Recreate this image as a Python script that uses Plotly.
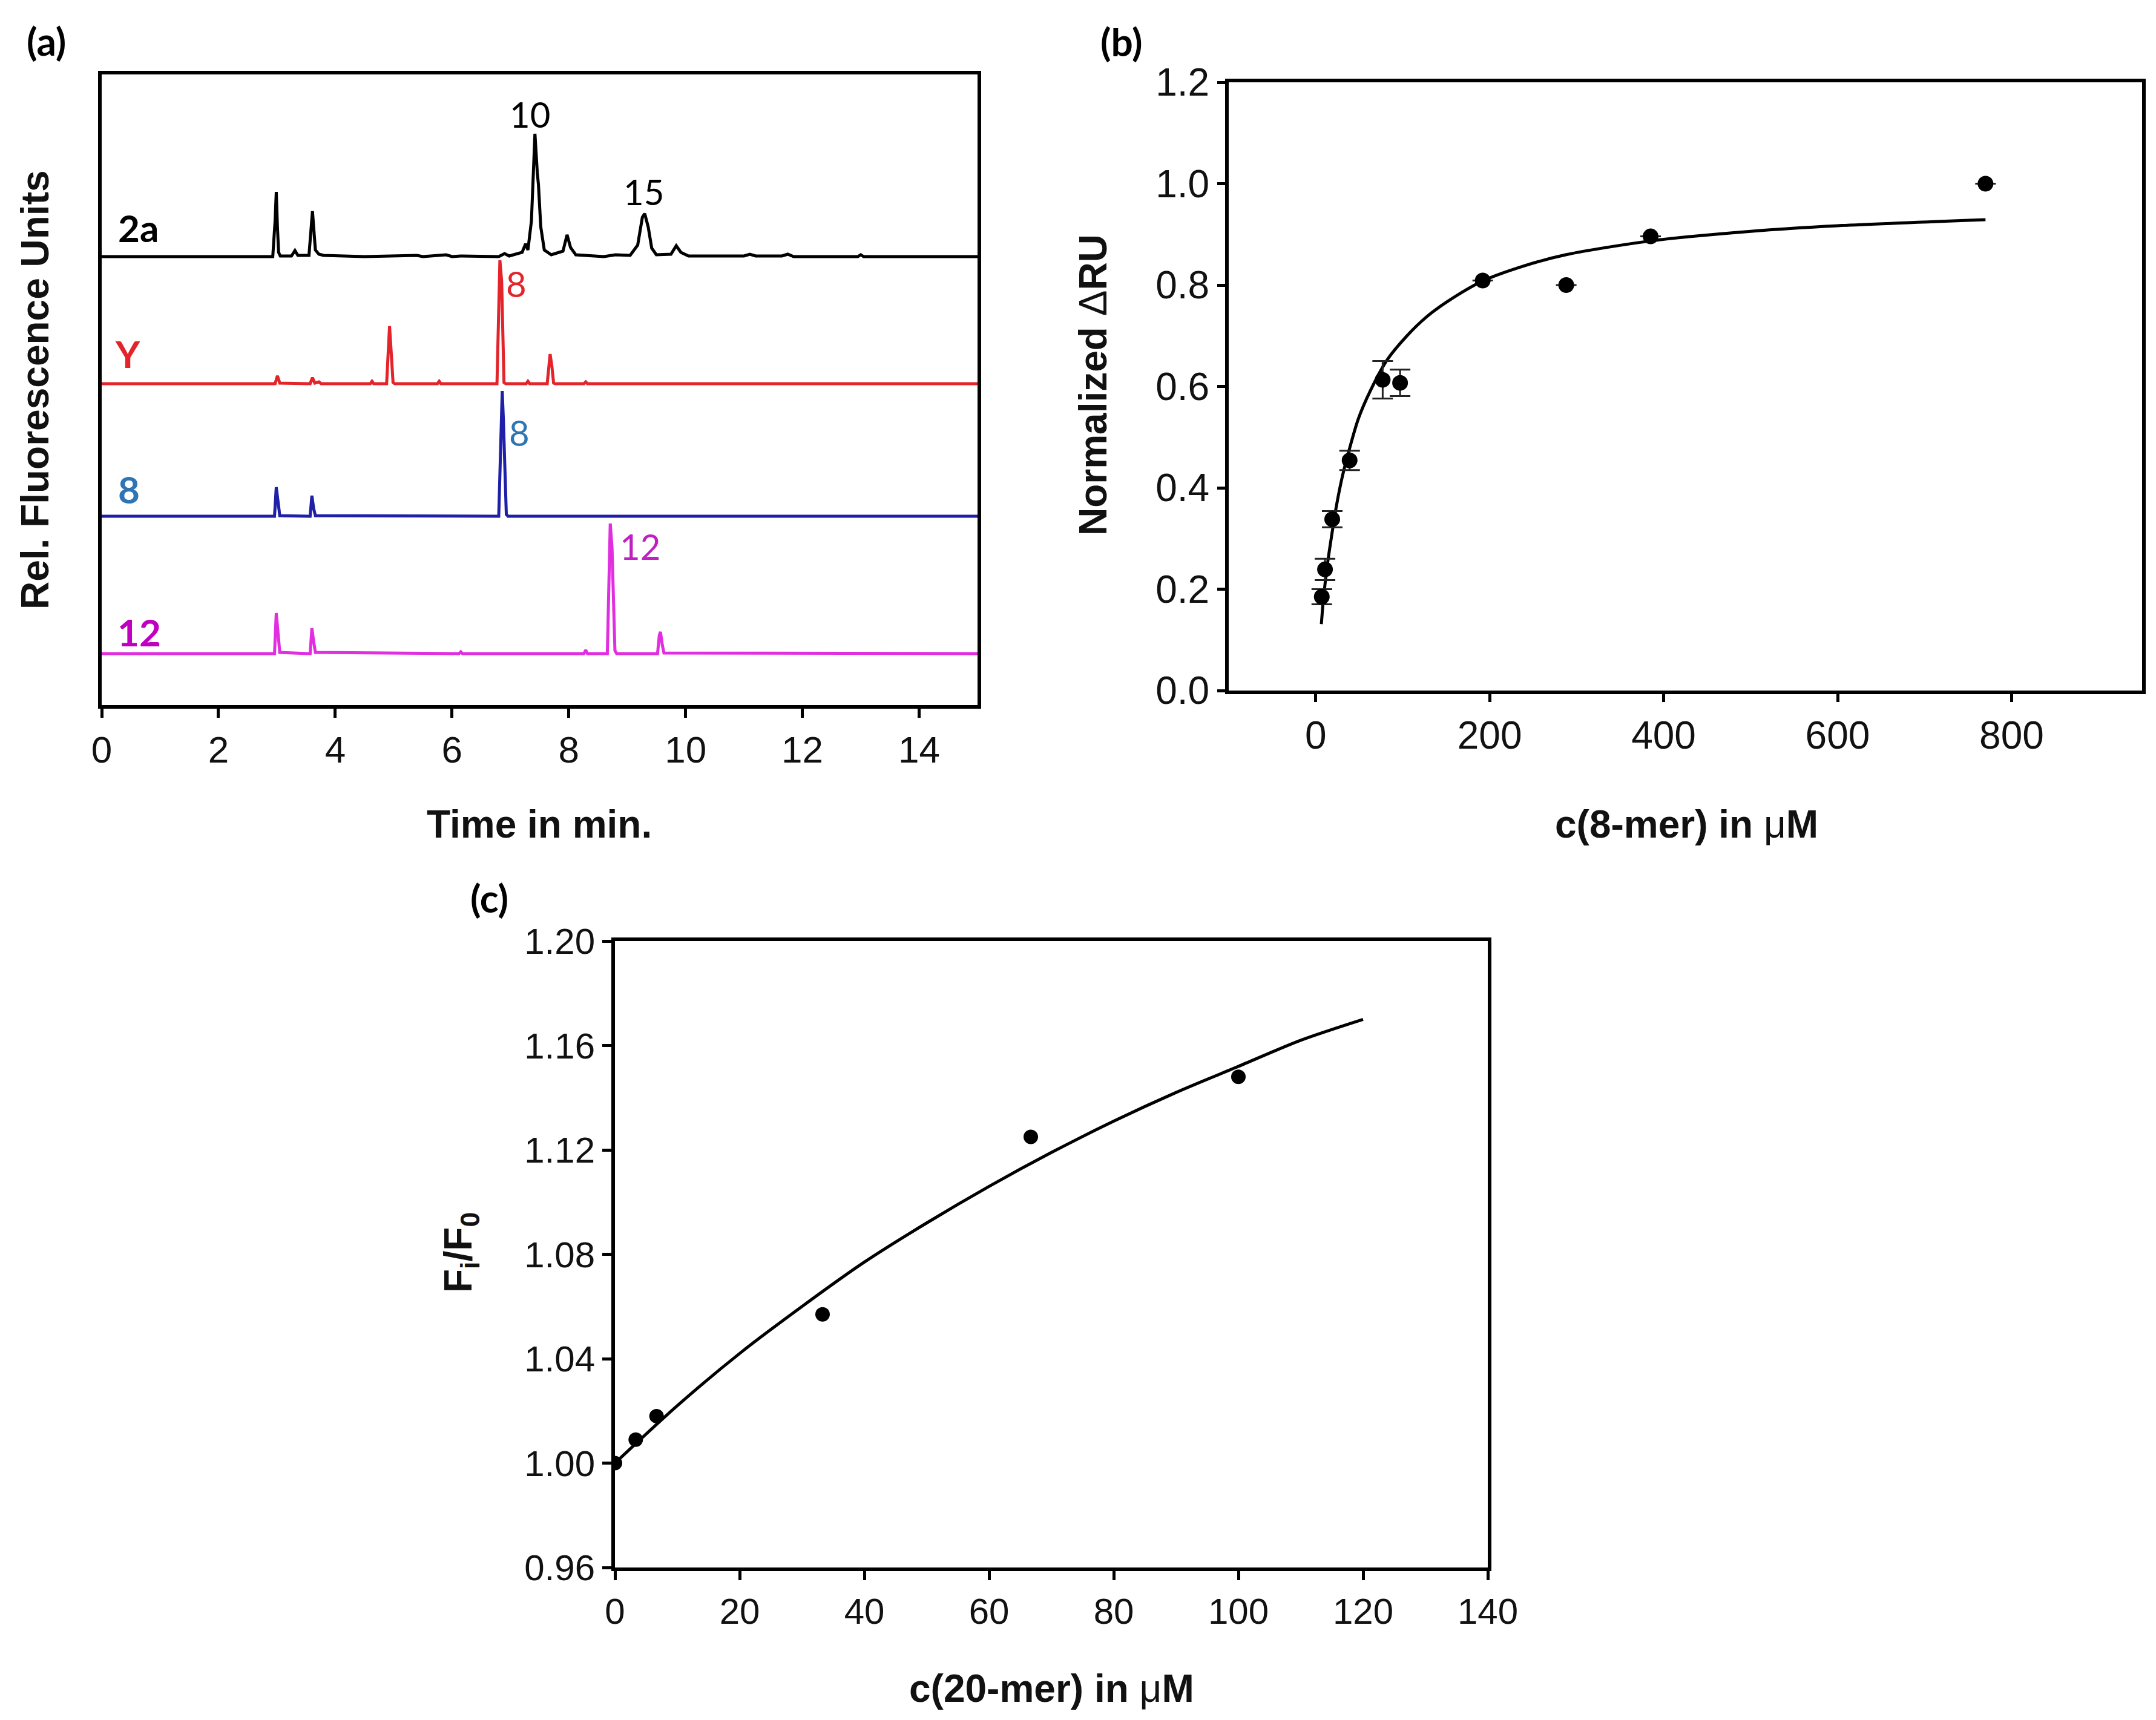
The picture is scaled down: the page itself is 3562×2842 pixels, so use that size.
import plotly.graph_objects as go

# ---------------- data ----------------
# (a) chromatograms: retention time (min) vs. stacked relative fluorescence
t_2a = [0, 2.93, 2.97, 2.99, 3.01, 3.03, 3.06, 3.25, 3.31, 3.36, 3.55, 3.59, 3.61, 3.63, 3.66, 3.72, 3.8,
        4.5, 5.4, 5.5, 5.9, 6.0, 6.15, 6.8, 6.9, 6.98, 7.2, 7.26, 7.3, 7.36, 7.42, 7.46, 7.48, 7.52, 7.58,
        7.7, 7.9, 7.97, 8.03, 8.12, 8.6, 8.8, 9.05, 9.18, 9.26, 9.3, 9.36, 9.42, 9.5, 9.75, 9.84, 9.92,
        10.05, 11.0, 11.1, 11.2, 11.65, 11.75, 11.85, 12.95, 13.0, 13.05, 15]
s_2a = [741, 741, 800, 848, 790, 748, 742, 742, 751, 743, 743, 790, 816, 790, 752, 745, 743,
        741, 743, 741, 744, 741, 742, 741, 746, 742, 748, 762, 752, 800, 944, 880, 860, 790, 752,
        744, 750, 777, 756, 744, 741, 744, 743, 760, 806, 812, 790, 755, 744, 745, 759, 748,
        742, 742, 745, 742, 742, 745, 741, 741, 744, 741, 741]

t_Y = [0, 2.97, 3.01, 3.05, 3.57, 3.61, 3.65, 3.72, 3.76, 4.6, 4.63, 4.66, 4.88, 4.91, 4.93, 4.96, 4.99,
       5.02, 5.75, 5.78, 5.81, 6.77, 6.80, 6.82, 6.85, 6.87, 6.89, 6.92, 7.27, 7.30, 7.33, 7.63, 7.66,
       7.68, 7.71, 7.74, 7.77, 8.26, 8.29, 8.32, 15]
s_Y = [531, 531, 544, 532, 531, 541, 532, 534, 531, 531, 535, 531, 531, 600, 626, 580, 533,
       531, 531, 535, 531, 531, 650, 735, 700, 600, 533, 531, 531, 535, 531, 531, 570,
       580, 560, 532, 531, 531, 534, 531, 531]

t_8 = [0, 2.96, 2.99, 3.02, 3.05, 3.57, 3.6, 3.63, 3.66, 6.80, 6.83, 6.86, 6.88, 6.9, 6.93, 6.96, 15]
s_8 = [312, 312, 360, 330, 313, 312, 346, 325, 313, 312, 400, 519, 470, 400, 315, 312, 312]

t_12 = [0, 2.96, 2.99, 3.02, 3.05, 3.57, 3.6, 3.63, 3.66, 6.12, 6.15, 6.18, 8.26, 8.29, 8.32, 8.66,
        8.69, 8.71, 8.74, 8.76, 8.79, 8.82, 9.52, 9.55, 9.57, 9.6, 9.63, 15]
s_12 = [85, 85, 152, 120, 87, 85, 127, 105, 87, 85, 88, 85, 85, 91, 85, 85,
        200, 300, 260, 200, 90, 85, 85, 115, 121, 100, 86, 85]

trace_names = ["2a", "Y", "8", "12"]
trace_label_t = [0.63, 0.45, 0.47, 0.64]
trace_label_y = [789, 581, 357, 121]
peak_labels = ["10", "15", "8", "8", "12"]
peak_label_t = [7.33, 9.28, 7.10, 7.15, 9.22]
peak_label_y = [977, 849, 697, 451, 263]

# (b) SPR binding of 8-mer
b_conc = [7, 10.7, 19, 39, 77, 97, 192, 288, 385, 770]
b_ru = [0.185, 0.239, 0.338, 0.454, 0.613, 0.607, 0.809, 0.800, 0.896, 1.000]
b_err = [0.015, 0.021, 0.016, 0.019, 0.037, 0.026, 0, 0, 0, 0]
b_fit_x = [6.5, 8.8, 13.4, 18, 24, 31, 39, 49, 63, 82, 105, 128, 151, 192, 240, 288, 385, 500, 600, 770]
b_fit_y = [0.131, 0.179, 0.248, 0.302, 0.366, 0.425, 0.478, 0.536, 0.592, 0.652, 0.700, 0.738, 0.767,
           0.808, 0.838, 0.860, 0.887, 0.906, 0.917, 0.929]

# (c) fluorescence titration with 20-mer
c_conc = [0, 3.33, 6.67, 33.3, 66.7, 100]
c_ratio = [1.000, 1.009, 1.018, 1.057, 1.125, 1.148]
c_fit_x = [0, 10, 20, 30, 40, 50, 60, 70, 80, 90, 100, 110, 120]
c_fit_y = [1.000, 1.022, 1.042, 1.060, 1.077, 1.092, 1.106, 1.119, 1.131, 1.142, 1.152, 1.162, 1.170]

# ---------------- styling ----------------
W, H = 3562, 2842
ARIAL = "Liberation Sans, Arial, sans-serif"
CALI = "Lato, Carlito, Calibri, sans-serif"
line_colors = ["#000000", "#e3242b", "#1f1fa8", "#e02ee0"]
label_colors = ["#000000", "#e3242b", "#2e75b6", "#c000c0"]
peak_colors = ["#000000", "#000000", "#e3242b", "#2e75b6", "#c020c0"]


def px_x(p):
    return p / W


def px_y(p):
    return 1 - p / H


fig = go.Figure()

# (a)
for tx, sy, col, nm in zip([t_2a, t_Y, t_8, t_12], [s_2a, s_Y, s_8, s_12], line_colors, trace_names):
    fig.add_trace(go.Scatter(x=tx, y=sy, mode="lines", line=dict(color=col, width=5),
                             name=nm, showlegend=False, xaxis="x", yaxis="y"))

# (b)
fig.add_trace(go.Scatter(x=b_fit_x, y=b_fit_y, mode="lines",
                         line=dict(color="black", width=5, shape="spline", smoothing=0.8),
                         showlegend=False, xaxis="x2", yaxis="y2"))
fig.add_trace(go.Scatter(x=b_conc, y=b_ru, mode="markers",
                         marker=dict(color="black", size=26),
                         error_y=dict(type="data", array=b_err, visible=True, color="#222222",
                                      thickness=3, width=17),
                         showlegend=False, xaxis="x2", yaxis="y2"))

# (c)
fig.add_trace(go.Scatter(x=c_fit_x, y=c_fit_y, mode="lines",
                         line=dict(color="black", width=5, shape="spline", smoothing=0.8),
                         showlegend=False, xaxis="x3", yaxis="y3"))
fig.add_trace(go.Scatter(x=c_conc, y=c_ratio, mode="markers", marker=dict(color="black", size=24),
                         showlegend=False, xaxis="x3", yaxis="y3"))

axis_common = dict(showline=True, linecolor="black", linewidth=6, mirror=True, showgrid=False,
                   zeroline=False, ticks="outside", tickcolor="black", tickwidth=5, ticklen=15,
                   automargin=False,
                   tickfont=dict(family=ARIAL, size=62, color="#111111"))

fig.update_layout(
    template="none",
    width=W, height=H, paper_bgcolor="white", plot_bgcolor="white",
    margin=dict(l=0, r=0, t=0, b=0, pad=0, autoexpand=False),
    xaxis=dict(axis_common, domain=[px_x(160), px_x(1607)], range=[0, 15], tickmode="array",
               tickvals=[0, 2, 4, 6, 8, 10, 12, 14], anchor="y"),
    yaxis=dict(axis_common, domain=[px_y(1157), px_y(115)], range=[0, 1042], ticks="",
               showticklabels=False, anchor="x"),
    xaxis2=dict(axis_common, domain=[px_x(2022), px_x(3531)], range=[-100, 950], tickmode="array",
                tickvals=[0, 200, 400, 600, 800], anchor="y2", ticklen=13,
                tickfont=dict(family=ARIAL, size=64, color="#111111")),
    yaxis2=dict(axis_common, domain=[px_y(1133), px_y(128)], range=[0, 1.2], tickmode="array",
                tickvals=[0, 0.2, 0.4, 0.6, 0.8, 1.0, 1.2],
                ticktext=["0.0", "0.2", "0.4", "0.6", "0.8", "1.0", "1.2"],
                anchor="x2", ticklen=13, tickfont=dict(family=ARIAL, size=64, color="#111111")),
    xaxis3=dict(axis_common, domain=[px_x(1008), px_x(2450)], range=[0, 140], tickmode="array",
                tickvals=[0, 20, 40, 60, 80, 100, 120, 140], anchor="y3", ticklen=15,
                tickfont=dict(family=ARIAL, size=60, color="#111111")),
    yaxis3=dict(axis_common, domain=[px_y(2582), px_y(1547)], range=[0.96, 1.20], tickmode="array",
                tickvals=[0.96, 1.00, 1.04, 1.08, 1.12, 1.16, 1.20],
                ticktext=["0.96", "1.00", "1.04", "1.08", "1.12", "1.16", "1.20"], anchor="x3", ticklen=15,
                tickfont=dict(family=ARIAL, size=60, color="#111111")),
)

ann = []
# panel letters
for txt, x, y in [("(a)", 68, 60), ("(b)", 1845, 61), ("(c)", 800, 1475)]:
    ann.append(dict(text="<b>%s</b>" % txt, x=px_x(x), y=px_y(y), xref="paper", yref="paper",
                    showarrow=False, xanchor="center", yanchor="middle",
                    font=dict(family=CALI, size=64, color="black")))
# axis titles
title_font = dict(family=ARIAL, size=64, color="#111111")
titles = [
    dict(text="<b>Time in min.</b>", x=px_x(883), y=px_y(1354)),
    dict(text="<b>Rel. Fluorescence Units</b>", x=px_x(50), y=px_y(636), textangle=-90),
    dict(text="<b>c(8-mer) in </b>μ<b>M</b>", x=px_x(2778), y=px_y(1354)),
    dict(text="<b>Normalized </b>Δ<b>RU</b>", x=px_x(1798), y=px_y(628), textangle=-90),
    dict(text="<b>c(20-mer) in </b>μ<b>M</b>", x=px_x(1729), y=px_y(2782)),
    dict(text="<b>F<sub>i</sub>/F<sub>0</sub></b>", x=px_x(753), y=px_y(2062), textangle=-90),
]
for a in titles:
    a.update(xref="paper", yref="paper", showarrow=False, xanchor="center", yanchor="middle",
             font=title_font)
ann += titles
# chromatogram labels
for nm, tx, ty, col in zip(trace_names, trace_label_t, trace_label_y, label_colors):
    ann.append(dict(text="<b>%s</b>" % nm, x=tx, y=ty, xref="x", yref="y", showarrow=False,
                    xanchor="center", yanchor="middle", font=dict(family=CALI, size=62, color=col)))
for pl, tx, ty, col in zip(peak_labels, peak_label_t, peak_label_y, peak_colors):
    ann.append(dict(text=pl, x=tx, y=ty, xref="x", yref="y", showarrow=False,
                    xanchor="center", yanchor="middle", font=dict(family=CALI, size=58, color=col)))

fig.update_layout(annotations=ann)
fig.write_html("out.html")
